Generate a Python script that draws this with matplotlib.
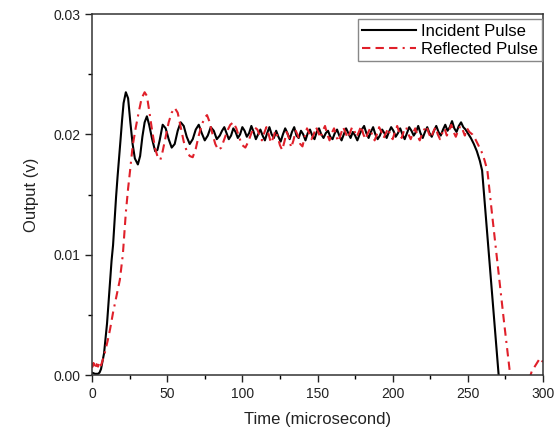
import numpy as np
import matplotlib
matplotlib.use("Agg")
import matplotlib.pyplot as plt

plt.rcParams['font.family'] = ['Liberation Sans', 'DejaVu Sans']

# Incident pulse: rise and ringing
inc_t_start = [0, 2, 4, 5, 6, 8, 10, 11, 12, 13, 14, 15, 16, 17, 18, 19, 20, 21,
               22.5, 24, 25.5, 27, 28.5, 30.5, 32, 33.5, 35, 36.5, 38, 40, 42,
               43.5, 45, 47, 49, 51, 53, 55, 57, 59, 61, 63, 65, 67, 69, 71,
               73, 75, 77, 79, 81, 83]
inc_v_start = [0.0002, 0.0001, 0.0001, 0.0002, 0.0005, 0.0018, 0.0043, 0.0060,
               0.0078, 0.0095, 0.0108, 0.0128, 0.0148, 0.0165, 0.0180, 0.0196,
               0.0212, 0.0226, 0.0235, 0.0230, 0.0210, 0.0192, 0.0180, 0.0175,
               0.0182, 0.0198, 0.0210, 0.0215, 0.0208, 0.0196, 0.0186, 0.0187,
               0.0195, 0.0208, 0.0205, 0.0196, 0.0189, 0.0192, 0.0203, 0.0210,
               0.0207, 0.0198, 0.0192, 0.0196, 0.0204, 0.0208, 0.0201, 0.0195,
               0.0199, 0.0206, 0.0203, 0.0196]
# Incident pulse: plateau, sampled every 1.5 us from 85
inc_v_flat = [0.0199, 0.0203, 0.0206, 0.0201, 0.0196, 0.0199, 0.0205, 0.0202, 0.0197, 0.0200,
              0.0206, 0.0203, 0.0198, 0.0201, 0.0207, 0.0202, 0.0196, 0.0200, 0.0204, 0.0199,
              0.0195, 0.0201, 0.0206, 0.0200, 0.0197, 0.0203, 0.0198, 0.0194, 0.0200, 0.0205,
              0.0201, 0.0196, 0.0202, 0.0206, 0.0199, 0.0197, 0.0203, 0.0200, 0.0195, 0.0201,
              0.0204, 0.0199, 0.0196, 0.0202, 0.0205, 0.0200, 0.0197, 0.0201, 0.0203, 0.0198,
              0.0196, 0.0201, 0.0204, 0.0199, 0.0195, 0.0200, 0.0205, 0.0201, 0.0197, 0.0202,
              0.0199, 0.0195, 0.0200, 0.0204, 0.0207, 0.0201, 0.0197, 0.0202, 0.0206, 0.0200,
              0.0196, 0.0199, 0.0204, 0.0201, 0.0197, 0.0202, 0.0206, 0.0203, 0.0198, 0.0201,
              0.0205, 0.0200, 0.0196, 0.0201, 0.0206, 0.0203, 0.0199, 0.0202, 0.0207, 0.0201,
              0.0197, 0.0202, 0.0206, 0.0201, 0.0198, 0.0203, 0.0207, 0.0202, 0.0199, 0.0204,
              0.0208, 0.0203, 0.0206, 0.0211, 0.0205, 0.0202, 0.0207, 0.0210, 0.0206, 0.0204]
# Incident pulse: unloading
inc_t_end = [250, 252, 254, 256, 258, 259.5, 265, 270.5]
inc_v_end = [0.0201, 0.0197, 0.0192, 0.0186, 0.0178, 0.0170, 0.0085, 0.0]

# Reflected pulse: rise and ringing
ref_t_start = [0, 1, 2, 3, 4, 5, 6, 7, 8, 9, 10.5, 12, 14, 16, 18.5, 20.5, 22.5,
               24, 25.5, 27, 29, 31, 33, 35, 36.5, 38, 40, 42, 44, 45.5, 47, 49,
               51, 53, 55, 57, 59, 61, 63, 65, 67, 69, 71, 73, 75, 76.5, 78, 80,
               82, 84, 86, 88, 90, 92, 94, 96, 98, 100, 102, 104, 106, 108]
ref_v_start = [0.0006, 0.0010, 0.0005, 0.0009, 0.0007, 0.0011, 0.0008, 0.0012,
               0.0016, 0.0021, 0.0029, 0.0038, 0.0052, 0.0064, 0.0079, 0.0100,
               0.0135, 0.0155, 0.0172, 0.0190, 0.0205, 0.0218, 0.0230, 0.0235,
               0.0232, 0.0220, 0.0203, 0.0188, 0.0180, 0.0179, 0.0186, 0.0198,
               0.0210, 0.0218, 0.0222, 0.0218, 0.0206, 0.0194, 0.0186, 0.0182,
               0.0181, 0.0188, 0.0199, 0.0208, 0.0214, 0.0216, 0.0211, 0.0201,
               0.0192, 0.0187, 0.0189, 0.0196, 0.0203, 0.0208, 0.0210, 0.0205,
               0.0197, 0.0191, 0.0189, 0.0194, 0.0201, 0.0206]
# Reflected pulse: plateau, sampled every 1.5 us from 110
ref_v_flat = [0.0204, 0.0199, 0.0195, 0.0201, 0.0206, 0.0200, 0.0193, 0.0197, 0.0203, 0.0198,
              0.0191, 0.0187, 0.0194, 0.0202, 0.0197, 0.0189, 0.0195, 0.0203, 0.0199, 0.0192,
              0.0190, 0.0198, 0.0205, 0.0201, 0.0196, 0.0200, 0.0206, 0.0202, 0.0197, 0.0203,
              0.0207, 0.0200, 0.0195, 0.0201, 0.0205, 0.0198, 0.0194, 0.0200, 0.0206, 0.0202,
              0.0197, 0.0201, 0.0206, 0.0203, 0.0198, 0.0202, 0.0207, 0.0200, 0.0196, 0.0201,
              0.0205, 0.0199, 0.0195, 0.0200, 0.0206, 0.0202, 0.0197, 0.0201, 0.0205, 0.0199,
              0.0196, 0.0202, 0.0207, 0.0201, 0.0197, 0.0203, 0.0206, 0.0200, 0.0196, 0.0201,
              0.0205, 0.0199, 0.0195, 0.0200, 0.0204, 0.0207, 0.0201, 0.0197, 0.0202, 0.0206,
              0.0200, 0.0196, 0.0201, 0.0205, 0.0199, 0.0203, 0.0208, 0.0202, 0.0198, 0.0203,
              0.0207, 0.0204, 0.0199, 0.0205, 0.0202]
# Reflected pulse: unloading and tail
ref_t_end = [253, 255, 257, 259, 261, 263, 266, 270, 274, 278, 279, 291,
             292.5, 294, 296, 298, 299, 300]
ref_v_end = [0.0200, 0.0196, 0.0191, 0.0186, 0.0179, 0.0170, 0.0135, 0.0090,
             0.0045, 0.0002, -0.0003, -0.0003, 0.0003, 0.0006, 0.0010, 0.0014,
             0.0012, 0.0011]

inc_t = np.concatenate([inc_t_start, 85 + 1.5 * np.arange(len(inc_v_flat)), inc_t_end])
inc_v = np.concatenate([inc_v_start, inc_v_flat, inc_v_end])
ref_t = np.concatenate([ref_t_start, 110 + 1.5 * np.arange(len(ref_v_flat)), ref_t_end])
ref_v = np.concatenate([ref_v_start, ref_v_flat, ref_v_end])

fig = plt.figure(figsize=(5.56, 4.32), dpi=100)
ax = fig.add_axes([0.1655, 0.1319, 0.8111, 0.8356])

ax.plot(inc_t, inc_v, color='black', lw=1.5, label='Incident Pulse')
ax.plot(ref_t, ref_v, color='#e0202a', lw=1.5,
        linestyle=(0, (4, 2.5, 4, 2.5, 4, 2.5, 1, 2.5)), label='Reflected Pulse')

ax.set_xlim(0, 300)
ax.set_ylim(0, 0.03)
ax.set_xticks([0, 50, 100, 150, 200, 250, 300])
ax.set_yticks([0.00, 0.01, 0.02, 0.03])
ax.set_yticklabels(['0.00', '0.01', '0.02', '0.03'])
ax.set_xticks(np.arange(25, 300, 50), minor=True)
ax.set_yticks([0.005, 0.015, 0.025], minor=True)
ax.tick_params(which='major', direction='out', length=5, width=1, labelsize=10,
               colors='#222222', top=False, right=False)
ax.tick_params(which='minor', direction='out', length=3, width=1,
               top=False, right=False)
for s in ax.spines.values():
    s.set_linewidth(1.1)
    s.set_color('#333333')

ax.set_xlabel('Time (microsecond)', fontsize=12, color='#222222', labelpad=8)
ax.set_ylabel('Output (v)', fontsize=12, color='#222222', labelpad=10)

leg = ax.legend(loc='upper right', bbox_to_anchor=(0.997, 0.985), fontsize=12,
                frameon=True, fancybox=False, framealpha=1, edgecolor='#888888',
                handlelength=3.2, handletextpad=0.3, labelspacing=0.2,
                borderpad=0.25, borderaxespad=0)
leg.get_frame().set_linewidth(1.0)

fig.savefig('out.png', dpi=100)
